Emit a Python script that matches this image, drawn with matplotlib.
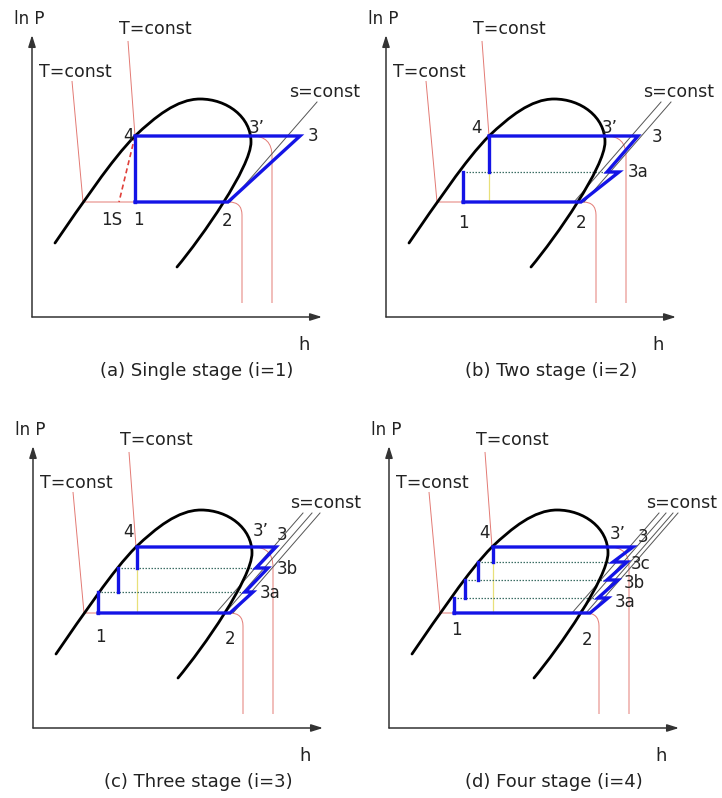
import matplotlib
matplotlib.use("Agg")
import matplotlib.pyplot as plt
from matplotlib.path import Path
from matplotlib.patches import PathPatch

plt.rcParams['font.family'] = ['DejaVu Sans']

# saturation dome, cubic Bezier control points (h, ln P in diagram units)
dome_pts = [(23, 74), (50, 113), (80, 158), (103, 181),
            (123, 200), (145, 218), (168, 218),
            (195, 218), (219, 200), (219, 175),
            (219, 150), (170, 80), (145, 50)]

p_high = 181
p_low = 115

captions = ['(a) Single stage (i=1)', '(b) Two stage (i=2)',
            '(c) Three stage (i=3)', '(d) Four stage (i=4)']

# intermediate pressures of each scheme, low to high
mid_levels = [[], [145], [136, 160], [130, 148, 166]]
# liquid-side enthalpy of each expansion step, from the condenser level downwards
liquid_h = [[103], [103, 77], [104, 85, 65], [104, 89, 76, 65]]
# compression path 2 -> 3a -> ... -> 3 with intercooling steps
comp_path = [
    [(196, 115), (268, 181)],
    [(195, 115), (233, 145), (221, 145), (252, 181)],
    [(197, 115), (220, 136), (212, 136), (235, 160), (223, 160), (243, 181)],
    [(201, 115), (219, 130), (209, 130), (229, 148), (218, 148), (238, 166),
     (224, 166), (244, 181)],
]
# s=const lines: bottom and top h
isentropes = [
    [(198, 285)],
    [(188, 275), (198, 285)],
    [(183, 270), (192, 279), (200, 287)],
    [(183, 270), (190, 277), (197, 284), (202, 289)],
]
s_lo, s_hi = 115, 215

# T=const lines: slanted start, point on the dome, vertical branch h
iso_low = [(40, 236), (51, p_low), 210]
iso_high = [(96, 276), (103, p_high), 240]
iso_bottom = 14
flash_point = (87, p_low)  # 1S

point_labels = [
    [('4', 97, 181), ('3\u2019', 225, 189), ('3', 281, 181),
     ('1S', 80, 97), ('1', 106, 97), ('2', 195, 96)],
    [('4', 91, 189), ('3\u2019', 224, 189), ('3', 271, 180), ('3a', 252, 145),
     ('1', 77, 94), ('2', 195, 94)],
    [('4', 95, 196), ('3\u2019', 228, 197), ('3', 249, 193), ('3b', 254, 159),
     ('3a', 237, 135), ('1', 67, 91), ('2', 197, 89)],
    [('4', 95, 195), ('3\u2019', 229, 194), ('3', 254, 191), ('3c', 252, 164),
     ('3b', 245, 145), ('3a', 236, 126), ('1', 67, 98), ('2', 198, 88)],
]

panel_left = [0.0, 0.5, 0.0, 0.5]
panel_bottom = [0.5, 0.5, 0.0, 0.0]
origin_x = [32, 25, 33, 28]
origin_y = [82, 82, 70, 70]

BLUE = '#1414e6'
RED = '#e37a74'
TXT = '#222222'


def isotherm(start, sat, xv, r=16):
    verts = [start, sat, (xv - r, sat[1]), (xv, sat[1]), (xv, sat[1] - r),
             (xv, iso_bottom)]
    codes = [Path.MOVETO, Path.LINETO, Path.LINETO, Path.CURVE3, Path.CURVE3,
             Path.LINETO]
    return Path(verts, codes)


fig = plt.figure(figsize=(7.22, 7.98), dpi=100)

for i in range(4):
    ax = fig.add_axes([panel_left[i], panel_bottom[i], 0.5, 0.5])
    ox, oy = origin_x[i], origin_y[i]
    ax.set_xlim(-ox, 361 - ox)
    ax.set_ylim(-oy, 399 - oy)
    ax.axis('off')

    # axes with arrow heads
    arrow = dict(arrowstyle='-|>,head_length=0.7,head_width=0.22', color='#333333',
                 lw=1.1, shrinkA=0, shrinkB=0)
    ax.annotate('', xy=(0, 282), xytext=(0, 0), arrowprops=arrow)
    ax.annotate('', xy=(290, 0), xytext=(0, 0), arrowprops=arrow)
    ax.text(-3, 298, 'ln P', ha='center', va='center', fontsize=12, color=TXT)
    ax.text(272, -28, 'h', ha='center', va='center', fontsize=13, color=TXT)
    ax.text(165, -54, captions[i], ha='center', va='center', fontsize=13, color=TXT)

    # isotherms
    ax.add_patch(PathPatch(isotherm(iso_low[0], iso_low[1], iso_low[2], r=13),
                           fill=False, ec=RED, lw=0.7, zorder=1))
    ax.add_patch(PathPatch(isotherm(iso_high[0], iso_high[1], iso_high[2], r=20),
                           fill=False, ec=RED, lw=0.7, zorder=1))
    ax.text(123, 288, 'T=const', ha='center', va='center', fontsize=12.5, color=TXT)
    ax.text(43, 245, 'T=const', ha='center', va='center', fontsize=12.5, color=TXT)

    # isentropes
    for h0, h1 in isentropes[i]:
        ax.plot([h0, h1], [s_lo, s_hi], color='#555555', lw=0.7, zorder=2)
    ax.text(293, 225, 's=const', ha='center', va='center', fontsize=12.5, color=TXT)

    # saturation dome
    codes = [Path.MOVETO] + [Path.CURVE4] * (len(dome_pts) - 1)
    ax.add_patch(PathPatch(Path(dome_pts, codes), fill=False, ec='black',
                           lw=2.0, capstyle='round', zorder=3))

    levels = [p_high] + mid_levels[i][::-1] + [p_low]
    hs = liquid_h[i]
    zig = comp_path[i]

    # intermediate pressure lines and the continuation below point 4
    if mid_levels[i]:
        ax.plot([hs[0], hs[0]], [levels[1], p_low], color='#e8e07a', lw=0.9, zorder=2)
    for k, p in enumerate(levels[1:-1]):
        h_vap = [x for x, y in zig if y == p][-1]
        ax.plot([hs[k + 1], h_vap], [p, p], color='#3c6e64', lw=0.9,
                ls=(0, (1.2, 1.2)), zorder=2)

    # cycle
    blue = dict(color=BLUE, lw=2.4, solid_joinstyle='miter', zorder=4)
    for k in range(len(hs)):
        ax.plot([hs[k], hs[k]], [levels[k], levels[k + 1]], **blue)
    ax.plot([hs[-1]] + [x for x, y in zig] + [hs[0]],
            [p_low] + [y for x, y in zig] + [p_high], **blue)

    if i == 0:
        ax.plot([liquid_h[0][0], flash_point[0]], [p_high, flash_point[1]],
                color='#e0403a', lw=1.2, ls=(0, (3, 2)), zorder=2)

    for s, x, y in point_labels[i]:
        ax.text(x, y, s, ha='center', va='center', fontsize=12, color=TXT, zorder=6)

fig.savefig('out.png', dpi=100, facecolor='white')
